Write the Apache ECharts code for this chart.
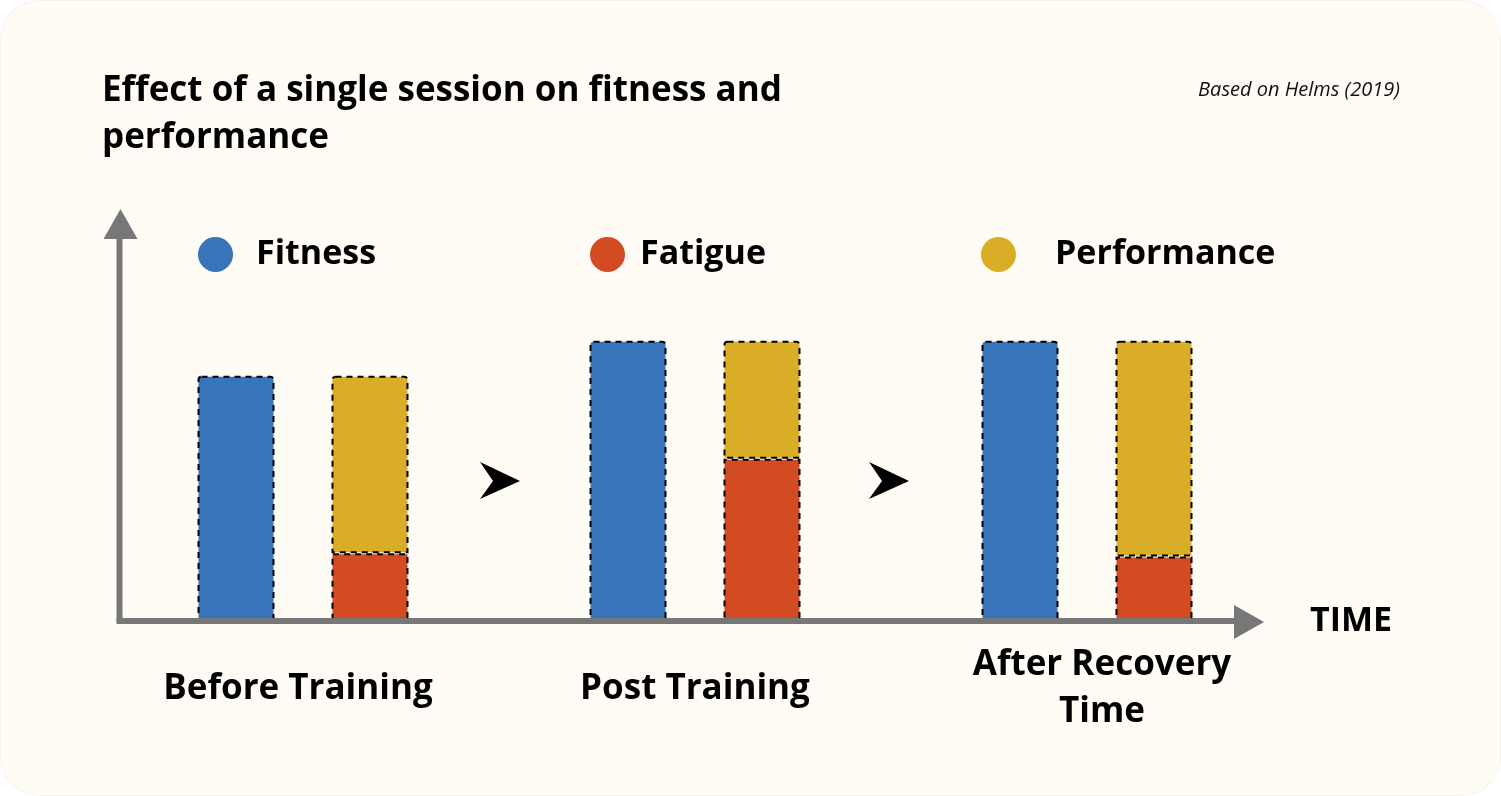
<!DOCTYPE html>
<html>
<head>
<meta charset="utf-8">
<script src="https://cdn.jsdelivr.net/npm/echarts@6/dist/echarts.min.js"></script>
<style>
html,body{margin:0;padding:0;background:#ffffff;}
#card{position:absolute;left:0;top:0;width:1501px;height:796px;background:#fffcf5;border-radius:40px;box-sizing:border-box;border:1px dotted #ece9e2;}
#chart{width:1501px;height:796px;}
</style>
</head>
<body>
<div id="card"><div id="chart"></div></div>
<script>
const categories = ['Before Training', 'Post Training', 'After Recovery\nTime'];
const fitness = [70, 80, 80];
const fatigue = [19.3, 46.3, 18.4];
const performance = [50.7, 33.7, 61.6];
const seriesNames = ['Fitness', 'Fatigue', 'Performance'];
const colors = ['#3874b9', '#d34b23', '#d9ad25'];

const FONT = '"Open Sans", "Noto Sans", sans-serif';
const border = { borderColor: '#000', borderWidth: 2, borderType: [6, 5] };

const chart = echarts.init(document.getElementById('chart'), null, { renderer: 'canvas' });

function legendFor(i, left, gap) {
  return {
    data: [seriesNames[i]],
    left: left, top: 236, padding: 0,
    icon: 'circle', itemWidth: 37, itemHeight: 35,
    selectedMode: false,
    itemStyle: { borderWidth: 0 },
    textStyle: { fontFamily: FONT, fontWeight: 'bold', fontSize: 34, color: '#000', padding: [0, 0, 0, gap] }
  };
}

const labelLayout = [
  { padding: [0, 10, 0, 0] },
  { padding: [0, 0, 0, 0] },
  { padding: [0, 0, 0, 30] }
];
const rich = {};
labelLayout.forEach(function (l, i) {
  rich['c' + i] = { fontFamily: FONT, fontWeight: 'bold', fontSize: 35, lineHeight: 47, color: '#000', padding: l.padding };
});

const option = {
  backgroundColor: 'transparent',
  animation: false,
  title: [
    {
      text: 'Effect of a single session on fitness and\nperformance',
      left: 101, top: 67, padding: 0,
      textStyle: { fontFamily: FONT, fontWeight: 'bold', fontSize: 35, lineHeight: 47, color: '#000' }
    },
    {
      text: 'Based on Helms (2019)',
      right: 102, top: 79, padding: 0,
      textStyle: { fontFamily: FONT, fontStyle: 'italic', fontWeight: 'normal', fontSize: 20, color: '#111' }
    }
  ],
  legend: [legendFor(0, 197, 17), legendFor(1, 589, 9), legendFor(2, 980, 33)],
  grid: { left: 106, right: 219, top: 210, bottom: 176 },
  xAxis: {
    type: 'category',
    data: categories,
    axisLine: { show: false },
    axisTick: { show: false },
    name: 'TIME',
    nameLocation: 'end',
    nameGap: 27,
    nameTextStyle: { fontFamily: FONT, fontWeight: 'bold', fontSize: 34, color: '#000', verticalAlign: 'middle', padding: [9, 0, 0, 0] },
    axisLabel: {
      margin: 68,
      verticalAlign: 'middle',
      formatter: function (value, index) {
        return value.split('\n').map(function (line) { return '{c' + index + '|' + line + '}'; }).join('\n');
      },
      rich: rich
    }
  },
  yAxis: { type: 'value', min: 0, max: 117, show: false },
  series: [
    {
      name: seriesNames[0], type: 'bar', data: fitness, barWidth: 77, barGap: '74%',
      itemStyle: Object.assign({ color: colors[0], borderRadius: [3, 3, 0, 0] }, border)
    },
    {
      name: seriesNames[1], type: 'bar', stack: 'p', data: fatigue, barWidth: 77,
      itemStyle: Object.assign({ color: colors[1] }, border)
    },
    {
      name: seriesNames[2], type: 'bar', stack: 'p', data: performance, barWidth: 77,
      itemStyle: Object.assign({ color: colors[2], borderRadius: [3, 3, 0, 0] }, border)
    }
  ],
  graphic: [
    { type: 'line', shape: { x1: 118.5, y1: 620, x2: 118.5, y2: 232 }, style: { stroke: '#777', lineWidth: 6 }, z: 10 },
    { type: 'polygon', shape: { points: [[119.5, 208], [136.5, 238], [102.5, 238]] }, style: { fill: '#777' }, z: 10 },
    { type: 'line', shape: { x1: 115.5, y1: 620, x2: 1238, y2: 620 }, style: { stroke: '#777', lineWidth: 6 }, z: 10 },
    { type: 'polygon', shape: { points: [[1263, 621], [1233, 604], [1233, 638]] }, style: { fill: '#777' }, z: 10 },
    { type: 'polygon', shape: { points: [[479, 461], [519, 480], [479, 498], [492, 480]] }, style: { fill: '#000' }, z: 10 },
    { type: 'polygon', shape: { points: [[868, 461], [908, 480], [868, 498], [881, 480]] }, style: { fill: '#000' }, z: 10 }
  ]
};
chart.setOption(option);
</script>
</body>
</html>
